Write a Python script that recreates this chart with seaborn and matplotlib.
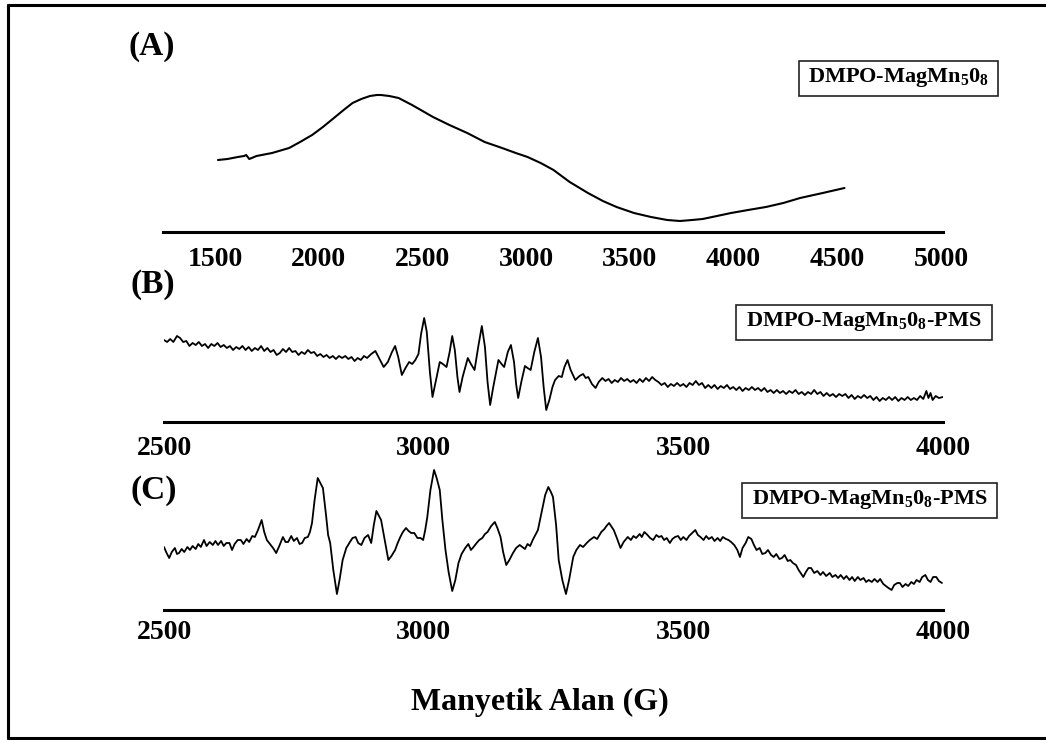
import matplotlib
matplotlib.use("Agg")
import matplotlib.pyplot as plt
import seaborn as sns
import pandas as pd
from matplotlib.lines import Line2D
from matplotlib.patches import Rectangle

# ---------------- data (field in G, signal in arbitrary units) ----------------
a_points = [
    (1514, 72), (1560, 73), (1610, 75), (1640, 76), (1650, 77), (1665, 73), (1700, 76),
    (1775, 79), (1857, 84), (1910, 90), (1968, 97), (2020, 105), (2079, 115), (2120, 122),
    (2163, 129), (2205, 133), (2247, 136), (2280, 137), (2300, 137), (2340, 136), (2385, 134),
    (2450, 127), (2551, 115), (2630, 107), (2716, 99), (2800, 90), (2884, 84), (2950, 79),
    (3007, 75), (3070, 69), (3132, 62), (3210, 50), (3298, 39), (3370, 31), (3436, 25),
    (3520, 19), (3602, 15), (3680, 12), (3742, 11), (3800, 12), (3851, 13), (3920, 16),
    (3988, 19), (4070, 22), (4156, 25), (4240, 29), (4321, 34), (4430, 39), (4535, 44),
]

b_points = [
    (2500, 82), (2506, 80), (2512, 83), (2518, 80), (2525, 86), (2531, 84), (2537, 80), (2543, 81),
    (2549, 76), (2555, 79), (2561, 77), (2567, 80), (2573, 76), (2579, 78), (2585, 74), (2591, 78),
    (2597, 76), (2603, 79), (2609, 75), (2615, 77), (2621, 74), (2627, 76), (2633, 72), (2639, 75),
    (2645, 73), (2651, 76), (2657, 72), (2663, 75), (2669, 71), (2675, 74), (2681, 72), (2687, 76),
    (2693, 71), (2699, 74), (2705, 70), (2711, 72), (2717, 67), (2723, 69), (2729, 73), (2735, 70),
    (2741, 74), (2747, 70), (2753, 71), (2759, 67), (2765, 70), (2771, 68), (2777, 72), (2783, 69),
    (2789, 70), (2795, 66), (2801, 68), (2807, 65), (2813, 67), (2819, 64), (2825, 66), (2831, 63),
    (2837, 66), (2843, 64), (2849, 66), (2855, 63), (2861, 65), (2867, 61), (2873, 64), (2879, 62),
    (2885, 66), (2891, 64), (2899, 68), (2907, 71), (2915, 63), (2923, 55), (2931, 60), (2939, 70),
    (2945, 76), (2951, 65), (2958, 47), (2965, 54), (2972, 60), (2978, 58), (2984, 62), (2990, 68),
    (2995, 88), (3001, 104), (3006, 90), (3012, 50), (3017, 25), (3023, 40), (3031, 60), (3037, 58),
    (3044, 55), (3050, 70), (3055, 86), (3060, 72), (3065, 45), (3069, 30), (3075, 45), (3085, 64),
    (3091, 58), (3098, 52), (3105, 75), (3112, 96), (3118, 75), (3123, 40), (3128, 17), (3134, 35),
    (3144, 62), (3150, 58), (3155, 55), (3162, 70), (3168, 77), (3174, 60), (3178, 38), (3182, 24),
    (3188, 40), (3195, 56), (3200, 54), (3206, 52), (3213, 70), (3220, 84), (3226, 65), (3231, 35),
    (3236, 12), (3242, 22), (3248, 35), (3253, 42), (3260, 46), (3266, 45), (3271, 55), (3277, 62),
    (3283, 52), (3292, 42), (3300, 46), (3307, 48), (3312, 44), (3317, 45), (3324, 38), (3331, 34),
    (3337, 40), (3344, 44), (3350, 41), (3356, 43), (3362, 39), (3368, 42), (3374, 40), (3380, 44),
    (3386, 41), (3392, 43), (3398, 40), (3404, 42), (3410, 39), (3416, 43), (3422, 40), (3428, 44),
    (3434, 41), (3440, 45), (3446, 42), (3452, 40), (3458, 37), (3464, 39), (3470, 35), (3476, 38),
    (3482, 36), (3488, 39), (3494, 36), (3500, 38), (3506, 35), (3512, 39), (3518, 37), (3524, 41),
    (3530, 37), (3536, 39), (3542, 34), (3548, 37), (3554, 34), (3560, 37), (3566, 33), (3572, 36),
    (3578, 34), (3584, 37), (3590, 33), (3596, 35), (3602, 32), (3608, 35), (3614, 31), (3620, 34),
    (3626, 32), (3632, 35), (3638, 32), (3644, 34), (3650, 31), (3656, 34), (3662, 30), (3668, 32),
    (3674, 29), (3680, 32), (3686, 29), (3692, 31), (3698, 28), (3704, 31), (3710, 29), (3716, 32),
    (3722, 28), (3728, 30), (3734, 27), (3740, 30), (3746, 28), (3752, 32), (3758, 28), (3764, 30),
    (3770, 26), (3776, 29), (3782, 26), (3788, 28), (3794, 25), (3800, 28), (3806, 26), (3812, 28),
    (3818, 24), (3824, 27), (3830, 23), (3836, 26), (3842, 24), (3848, 27), (3854, 24), (3860, 26),
    (3866, 22), (3872, 25), (3878, 21), (3884, 24), (3890, 22), (3896, 25), (3902, 22), (3908, 25),
    (3914, 21), (3920, 24), (3926, 22), (3932, 25), (3938, 22), (3944, 24), (3950, 22), (3956, 26),
    (3962, 23), (3968, 31), (3972, 24), (3976, 29), (3980, 22), (3986, 26), (3992, 24), (4000, 25),
]

c_points = [
    (2500, 63), (2505, 57), (2510, 52), (2515, 58), (2521, 62), (2525, 56), (2529, 57), (2534, 61),
    (2539, 58), (2545, 63), (2550, 60), (2555, 64), (2561, 61), (2566, 66), (2571, 63), (2577, 70),
    (2582, 64), (2588, 68), (2594, 65), (2599, 69), (2604, 65), (2610, 69), (2615, 64), (2620, 67),
    (2626, 67), (2631, 60), (2636, 66), (2642, 70), (2648, 70), (2653, 66), (2659, 71), (2664, 68),
    (2670, 74), (2675, 73), (2681, 80), (2688, 90), (2693, 78), (2698, 70), (2704, 66), (2710, 62),
    (2716, 57), (2722, 64), (2729, 73), (2734, 68), (2739, 68), (2745, 74), (2750, 69), (2756, 72),
    (2761, 66), (2766, 67), (2771, 72), (2777, 73), (2781, 78), (2785, 87), (2790, 110), (2796, 132),
    (2801, 127), (2806, 122), (2812, 95), (2816, 75), (2820, 67), (2826, 40), (2833, 16), (2838, 30),
    (2844, 50), (2851, 62), (2858, 68), (2863, 72), (2869, 73), (2874, 67), (2880, 65), (2886, 72),
    (2893, 75), (2899, 67), (2904, 85), (2909, 99), (2914, 94), (2918, 90), (2925, 70), (2932, 50),
    (2938, 54), (2945, 60), (2950, 67), (2955, 73), (2960, 78), (2966, 82), (2971, 79), (2976, 77),
    (2982, 77), (2988, 72), (2994, 72), (2999, 70), (3003, 80), (3007, 93), (3013, 120), (3020, 140),
    (3025, 132), (3031, 120), (3036, 90), (3042, 60), (3048, 38), (3055, 19), (3061, 30), (3067, 47),
    (3073, 56), (3080, 62), (3086, 66), (3091, 60), (3096, 63), (3102, 67), (3107, 70), (3113, 72),
    (3118, 76), (3123, 78), (3130, 84), (3137, 88), (3142, 82), (3148, 73), (3153, 58), (3159, 45),
    (3165, 50), (3172, 57), (3178, 62), (3185, 65), (3190, 63), (3195, 61), (3200, 66), (3205, 64),
    (3210, 70), (3215, 75), (3220, 80), (3228, 100), (3234, 115), (3240, 123), (3245, 118), (3249, 113),
    (3255, 85), (3260, 50), (3267, 30), (3274, 16), (3280, 30), (3288, 53), (3294, 60), (3301, 65),
    (3307, 63), (3314, 67), (3320, 70), (3328, 73), (3334, 71), (3342, 78), (3348, 81), (3352, 84),
    (3357, 87), (3362, 83), (3366, 80), (3372, 72), (3379, 62), (3385, 68), (3393, 73), (3399, 70),
    (3404, 74), (3409, 72), (3416, 76), (3420, 73), (3425, 78), (3431, 75), (3436, 72), (3442, 70),
    (3448, 75), (3453, 73), (3458, 74), (3463, 70), (3468, 72), (3474, 67), (3479, 71), (3484, 73),
    (3490, 74), (3495, 70), (3500, 73), (3506, 70), (3511, 74), (3517, 77), (3523, 80), (3528, 75),
    (3533, 73), (3539, 70), (3544, 74), (3549, 71), (3555, 73), (3560, 69), (3566, 72), (3571, 69),
    (3576, 73), (3582, 71), (3587, 70), (3592, 68), (3598, 65), (3604, 60), (3609, 53), (3614, 62),
    (3620, 67), (3625, 73), (3631, 71), (3636, 65), (3641, 60), (3647, 62), (3652, 56), (3658, 57),
    (3663, 60), (3669, 55), (3674, 53), (3679, 56), (3685, 51), (3690, 52), (3695, 55), (3701, 49),
    (3706, 50), (3711, 47), (3717, 45), (3722, 40), (3727, 36), (3731, 33), (3736, 38), (3741, 42),
    (3746, 42), (3752, 37), (3758, 39), (3764, 35), (3769, 38), (3775, 34), (3782, 37), (3787, 33),
    (3793, 35), (3798, 32), (3803, 35), (3809, 31), (3814, 34), (3820, 30), (3825, 33), (3830, 29),
    (3836, 33), (3841, 30), (3847, 32), (3852, 28), (3857, 30), (3863, 28), (3868, 31), (3874, 28),
    (3879, 31), (3885, 26), (3890, 24), (3895, 22), (3901, 20), (3906, 25), (3912, 27), (3917, 27),
    (3922, 23), (3928, 26), (3933, 24), (3939, 28), (3944, 26), (3949, 30), (3955, 28), (3960, 33),
    (3966, 35), (3971, 30), (3976, 28), (3981, 33), (3987, 33), (3992, 29), (3998, 27),
]

a_ticks = [1500, 2000, 2500, 3000, 3500, 4000, 4500, 5000]
bc_ticks = [2500, 3000, 3500, 4000]
panel_labels = ["(A)", "(B)", "(C)"]
box_labels = [r"DMPO-MagMn$_5$0$_8$", r"DMPO-MagMn$_5$0$_8$-PMS", r"DMPO-MagMn$_5$0$_8$-PMS"]
x_label = "Manyetik Alan (G)"

# ---------------- style ----------------
sns.set_theme(style="white")
plt.rcParams["font.family"] = ["Liberation Serif", "DejaVu Serif"]
plt.rcParams["font.weight"] = "bold"
plt.rcParams["mathtext.fontset"] = "custom"
plt.rcParams["mathtext.rm"] = "Liberation Serif:bold"
plt.rcParams["mathtext.it"] = "Liberation Serif:bold"
plt.rcParams["mathtext.bf"] = "Liberation Serif:bold"

W, H = 1046, 740
fig = plt.figure(figsize=(W / 100, H / 100), dpi=100)
fig.patch.set_facecolor("white")


def add_ax(left, right, top, bottom):
    return fig.add_axes([left / W, 1 - bottom / H, (right - left) / W, (bottom - top) / H])


panels = [
    dict(points=a_points, xlim=(1249, 5010), ticks=a_ticks, ylim=(0, 172),
         rect=(163, 943, 60, 232), pad=11.0, lw=1.5,
         lab_xy=(128, 47), box=(799, 998, 61, 96)),
    dict(points=b_points, xlim=(2500, 4000), ticks=bc_ticks, ylim=(0, 122),
         rect=(164, 943, 300, 422), pad=10.0, lw=1.3,
         lab_xy=(130, 285), box=(736, 992, 305, 340)),
    dict(points=c_points, xlim=(2500, 4000), ticks=bc_ticks, ylim=(0, 150),
         rect=(164, 943, 460, 610), pad=7.2, lw=1.3,
         lab_xy=(131, 490), box=(742, 997, 483, 518)),
]

for i, p in enumerate(panels):
    ax = add_ax(*p["rect"])
    df = pd.DataFrame(p["points"], columns=["field", "signal"])
    sns.lineplot(data=df, x="field", y="signal", ax=ax, color="black",
                 linewidth=p["lw"], estimator=None, sort=False)
    ax.set_xlim(*p["xlim"])
    ax.set_ylim(*p["ylim"])
    ax.set_facecolor("none")
    ax.set_xticks(p["ticks"])
    ax.set_xticklabels([str(t) for t in p["ticks"]])
    ax.set_yticks([])
    ax.set_xlabel("")
    ax.set_ylabel("")
    for s in ["top", "left", "right"]:
        ax.spines[s].set_visible(False)
    ax.spines["bottom"].set_linewidth(2.2)
    ax.spines["bottom"].set_color("black")
    ax.tick_params(axis="x", length=0, pad=p["pad"], labelsize=20)
    for t in ax.get_xticklabels():
        t.set_fontweight("bold")
        t.set_color("black")

    lx, ly = p["lab_xy"]
    fig.text(lx / W, 1 - ly / H, panel_labels[i], fontsize=24, fontweight="bold",
             ha="left", va="center", color="black")

    bx0, bx1, by0, by1 = p["box"]
    fig.add_artist(Rectangle((bx0 / W, 1 - by1 / H), (bx1 - bx0) / W, (by1 - by0) / H,
                             transform=fig.transFigure, fill=False, lw=1.2, ec="#222222"))
    fig.text((bx0 + bx1) / 2 / W, 1 - ((by0 + by1) / 2 - 1) / H, box_labels[i],
             fontsize=16, fontweight="bold", ha="center", va="center", color="black")

fig.text(540 / W, 1 - 702 / H, x_label, fontsize=23, fontweight="bold",
         ha="center", va="center", color="black")

# outer frame (left, top, bottom edges)
for (x0, y0, x1, y1) in [(8, 5, 8, 738), (8, 5, 1046, 5), (8, 738, 1046, 738)]:
    fig.add_artist(Line2D([x0 / W, x1 / W], [1 - y0 / H, 1 - y1 / H],
                          transform=fig.transFigure, color="black", lw=2.2))

fig.savefig("out.png", dpi=100, facecolor="white")
